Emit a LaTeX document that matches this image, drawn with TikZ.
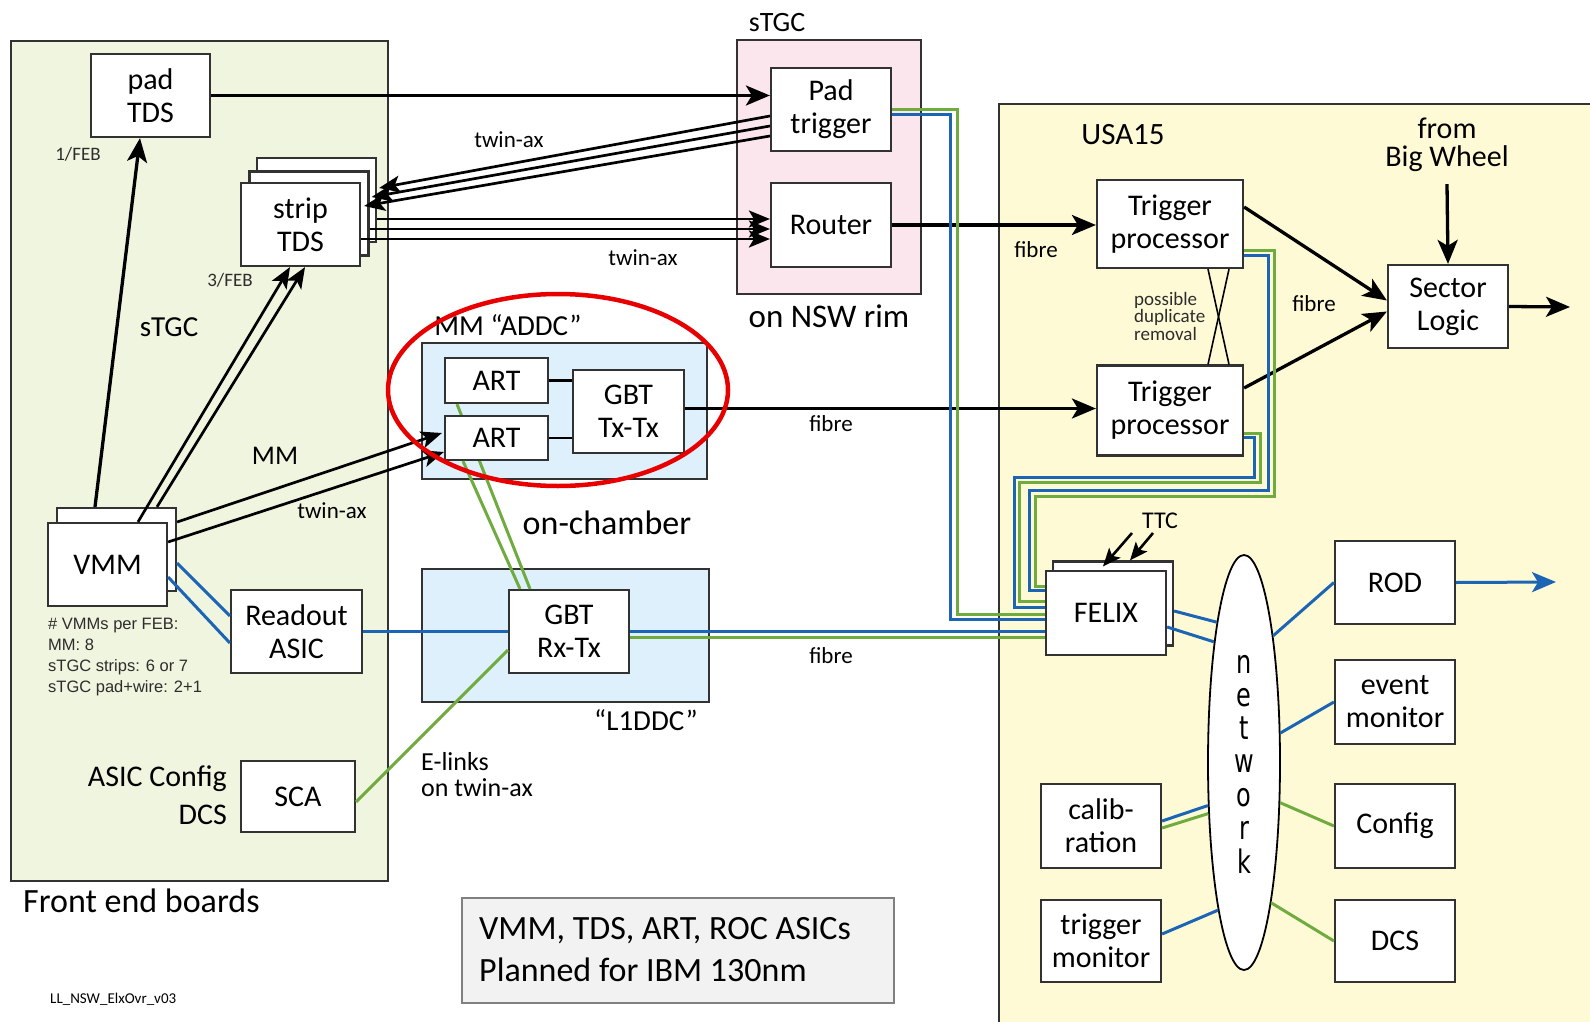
\documentclass[tikz,border=0pt]{standalone}
\usepackage{fontspec}
\usepackage{graphicx}
\setmainfont{Carlito}
\newfontfamily\arialf{Liberation Sans}
\newfontfamily\dejavuf{DejaVu Sans}
\usetikzlibrary{arrows.meta,shapes.geometric,calc}

\definecolor{febbg}{RGB}{240,245,224}
\definecolor{pinkbg}{RGB}{252,230,238}
\definecolor{bluebg}{RGB}{222,240,251}
\definecolor{usabg}{RGB}{255,250,214}
\definecolor{notebg}{RGB}{242,242,242}
\definecolor{lblue}{RGB}{28,100,180}
\definecolor{lgreen}{RGB}{112,171,64}
\definecolor{edgec}{RGB}{50,50,50}
\definecolor{redring}{RGB}{232,0,0}
\definecolor{txtgray}{RGB}{45,45,45}

\newcommand\fsz[2]{\fontsize{#1}{#2}\selectfont}

\begin{document}
\begin{tikzpicture}[x=1pt,y=-1pt,
  box/.style={draw=edgec, line width=2.2pt, fill=white, inner sep=0pt, align=center, font=\fsz{30}{33}},
  panel/.style={draw=edgec, line width=1.8pt},
  arr/.style={line width=3.3pt, -{Stealth[length=24pt,width=20pt,inset=6pt]}},
  tarr/.style={line width=2.7pt, -{Stealth[length=21pt,width=17pt,inset=5pt]}},
  sarr/.style={line width=2.6pt, -{Stealth[length=18pt,width=15pt,inset=4pt]}},
  bl/.style={draw=lblue, line width=3pt},
  gl/.style={draw=lgreen, line width=3pt},
  lbl/.style={inner sep=0pt, font=\fsz{23}{26}},
]
\useasboundingbox (0,0) rectangle (1590,1022);

% ---------- panels ----------
\fill[usabg] (999,104) rectangle (1590,1022);
\draw[panel] (1590,104) -- (999,104) -- (999,1022);
\draw[panel, fill=febbg] (11,41) rectangle (388,881);
\draw[panel, fill=pinkbg] (737,40) rectangle (921,294);
\draw[panel, fill=bluebg] (422,343) rectangle (707,479);
\draw[panel, fill=bluebg] (422,569) rectangle (709,702);
\draw[draw=gray, line width=1.5pt, fill=notebg] (462,898) rectangle (894,1003);

% ---------- front end boards ----------
\node[box, minimum width=119, minimum height=83] (padTDS) at (150.5,95.5) {pad\\TDS};
\node[box, minimum width=119, minimum height=84] (stripC) at (316.5,200) {};
\node[box, minimum width=119, minimum height=84] (stripB) at (309,213.5) {};
\node[box, minimum width=119, minimum height=83] (strip) at (300.5,224.5) {strip\\TDS};
\node[box, minimum width=119, minimum height=83] (VMMb) at (116.5,549.5) {};
\node[box, minimum width=119, minimum height=83] (VMM) at (107.5,564.5) {VMM};
\node[box, minimum width=131, minimum height=83] (readout) at (296.5,631.5) {Readout\\ASIC};
\node[box, minimum width=114, minimum height=71] (sca) at (298,796.5) {SCA};

\node[lbl, font=\fsz{19}{22}, text=txtgray] (feb1) at (78,154) {1/FEB};
\node[lbl, font=\fsz{19}{22}, text=txtgray] (feb3) at (230,280) {3/FEB};
\node[lbl, font=\fsz{29}{32}] (stgcL) at (169,327) {sTGC};
\node[lbl, font=\fsz{27}{30}] (mmL) at (275,456) {MM};
\node[lbl] (twinL) at (332,511) {twin-ax};
\node[lbl, anchor=north west, align=left, font=\arialf\fsz{16.5}{21}, text=txtgray] (vmmnote) at (48,618)
  {\# VMMs per FEB:\\MM: 8\\sTGC strips: 6 or 7\\sTGC pad+wire: 2+1};
\node[lbl, anchor=east, align=right, font=\fsz{30}{38}] (asiccfg) at (227,795) {ASIC Config\\DCS};
\node[lbl, anchor=west, font=\fsz{34}{38}] (febL) at (23,901) {Front end boards};
\node[lbl, anchor=west, font=\fsz{15}{17}] (ver) at (50,999) {LL\_NSW\_ElxOvr\_v03};

% ---------- sTGC rim ----------
\node[box, minimum width=120, minimum height=83] (padtrig) at (831,109.5) {Pad\\trigger};
\node[box, minimum width=120, minimum height=84] (router) at (831,225) {Router};
\node[lbl, font=\fsz{28}{30}] (stgcT) at (777,23) {sTGC};
\node[lbl, font=\fsz{33}{36}] (rim) at (829,316) {on NSW rim};
\node[lbl] (twinT) at (509,140) {twin-ax};
\node[lbl] (twinM) at (643,258) {twin-ax};

% ---------- on-chamber ----------
\node[lbl, font=\fsz{29}{32}] (addcL) at (508,325) {MM “ADDC”};
\node[box, minimum width=111, minimum height=83] (gbttx) at (628.5,411.5) {GBT\\Tx-Tx};
\node[box, minimum width=120, minimum height=83] (gbtrx) at (569,631.5) {GBT\\Rx-Tx};
\node[box, minimum width=103, minimum height=45] (art1) at (496.5,380.5) {ART};
\draw[gl] ([xshift=-39.5pt]art1.south) -- ([xshift=-39pt]gbtrx.north);
\node[box, minimum width=103, minimum height=44] (art2) at (496.5,438) {ART};
\node[lbl, font=\fsz{34}{36}] (onch) at (607,523) {on-chamber};
\node[lbl, font=\fsz{29}{32}] (l1ddcL) at (646,720) {“L1DDC”};
\node[lbl, anchor=west, align=left, font=\fsz{26}{26}] (elinks) at (421,775) {E-links\\on twin-ax};
\node[lbl] (fibreA) at (831,424) {fibre};
\node[lbl] (fibreB) at (831,656) {fibre};
\node[lbl, anchor=west, align=left, font=\fsz{34}{42}] (note) at (479,950)
  {VMM, TDS, ART, ROC ASICs\\Planned for IBM 130nm};

% ---------- USA15 ----------
\node[lbl, font=\fsz{31}{34}] (usaL) at (1123,135) {USA15};
\node[box, minimum width=146, minimum height=88] (tp1) at (1170,224) {Trigger\\processor};
\node[box, minimum width=146, minimum height=90] (tp2) at (1170,410.5) {Trigger\\processor};
\node[box, minimum width=120, minimum height=83] (sl) at (1448,306.5) {Sector\\Logic};
\node[lbl, font=\fsz{30}{28}, align=center] (bigw) at (1447,145) {from\\Big Wheel};
\node[lbl, anchor=west, align=left, font=\fsz{19}{17.5}, text=txtgray] (dup) at (1134,316) {possible\\duplicate\\removal};
\node[lbl] (fibreC) at (1036,250) {fibre};
\node[lbl] (fibreD) at (1314,304) {fibre};
\node[box, minimum width=120, minimum height=84] (felixb) at (1113,603.5) {};
\node[box, minimum width=120, minimum height=84] (felix) at (1106,613) {FELIX};
\node[lbl, font=\fsz{24}{26}] (ttcL) at (1160,521) {TTC};
\node[draw=black, line width=1.8pt, fill=white, ellipse, inner sep=0pt, minimum width=72, minimum height=415] (network) at (1244,762.5) {};
\node[lbl, font=\dejavuf\fsz{24}{24.6}] (netL) at (1244,767) {\scalebox{1}[1.35]{\begin{tabular}{@{}c@{}}n\\e\\t\\w\\o\\r\\k\end{tabular}}};
\node[box, minimum width=120, minimum height=83] (rod) at (1395,582.5) {ROD};
\node[box, minimum width=120, minimum height=84] (evmon) at (1395,702) {event\\monitor};
\node[box, minimum width=120, minimum height=84] (config) at (1395,826) {Config};
\node[box, minimum width=120, minimum height=82] (dcs) at (1395,941) {DCS};
\node[box, minimum width=120, minimum height=84] (calib) at (1101,826) {calib-\\ration};
\node[box, minimum width=120, minimum height=82] (trigmon) at (1101,941) {trigger\\monitor};

% ---------- black connectors ----------
\draw[arr] ([xshift=-21.5pt]VMMb.north) -- ([xshift=-10.5pt]padTDS.south);
\draw[tarr] ([xshift=30.5pt]VMM.north) -- ([xshift=-10.5pt]strip.south);
\draw[tarr] ([xshift=40.5pt]VMMb.north) -- ([xshift=4.5pt]strip.south);
\draw[tarr] ([yshift=27.5pt]VMMb.east) -- ([yshift=5pt,xshift=-2pt]art2.west);
\draw[tarr] ([yshift=22.5pt]VMM.east) -- ([yshift=-14pt]art2.west);
\draw[arr] (padTDS.east) -- (padTDS.east -| padtrig.west);
\draw[tarr] ([yshift=-6.5pt]padtrig.west) -- ([yshift=12pt,xshift=2pt]stripC.east);
\draw[tarr] ([yshift=-16.5pt]padtrig.west) -- ([yshift=16.5pt,xshift=2pt]stripB.east);
\draw[tarr] ([yshift=-26.5pt]padtrig.west) -- ([yshift=18.5pt,xshift=3pt]strip.east);
\draw[tarr] ([yshift=-19pt]stripC.east) -- ([yshift=-19pt]stripC.east -| router.west);
\draw[tarr] ([yshift=-15.5pt]stripB.east) -- ([yshift=-15.5pt]stripB.east -| router.west);
\draw[tarr] ([yshift=-14.5pt]strip.east) -- ([yshift=-14.5pt]strip.east -| router.west);
\draw[arr] (router.east) -- (router.east -| tp1.west);
\draw[arr] ([yshift=3pt]gbttx.east) -- ([yshift=3pt]gbttx.east -| tp2.west);
\draw[line width=2.6pt] (art1.east) -- (art1.east -| gbttx.west);
\draw[line width=2.6pt] (art2.east) -- (art2.east -| gbttx.west);
\draw[arr] ([yshift=17pt]tp1.east) -- ([yshift=6pt]sl.west);
\draw[arr] ([yshift=22.5pt]tp2.east) -- ([yshift=-5pt]sl.west);
\draw[arr] ([yshift=-12pt]bigw.south) -- (sl.north);
\coordinate (slout) at (1570,307);
\draw[arr] (sl.east) -- (slout);
\draw[line width=1.6pt] ([xshift=38pt]tp1.south) -- ([xshift=59pt]tp2.north);
\draw[line width=1.6pt] ([xshift=59pt]tp1.south) -- ([xshift=38pt]tp2.north);
\coordinate (ttc1) at (1132,533);
\coordinate (ttc2) at (1153,533);
\draw[sarr] (ttc1) -- ([xshift=-10pt,yshift=-6pt]felixb.north);
\draw[sarr] (ttc2) -- ([xshift=17pt]felixb.north);

% ---------- blue / green links ----------
\draw[bl] ([yshift=-13.5pt]VMMb.east) -- ([yshift=15.5pt]readout.west);
\draw[bl] ([yshift=-12.5pt]VMM.east) -- ([yshift=-11.5pt]readout.west);
\draw[bl] (readout.east) -- (readout.east -| gbtrx.west);
\draw[gl] ([yshift=-5.5pt]sca.east) -- ([yshift=-18.5pt]gbtrx.west);
\draw[gl] ([xshift=-33.5pt]art2.south) -- ([xshift=-49pt]gbtrx.north);
\draw[bl] (gbtrx.east) -- (gbtrx.east -| felix.west);
\draw[gl] ([yshift=-6pt]gbtrx.east) -- ([yshift=-6pt]gbtrx.east -| felix.west);
\draw[gl] (padtrig.east) -- ++(65,0) |- ([yshift=-1pt]felix.west);
\draw[bl] ([yshift=-5.5pt]padtrig.east) -- ++(58,0) |- ([yshift=-6pt]felix.west);
\draw[gl] ([yshift=-26pt]tp1.east) -- ++(30,0) -- ++(0,246) -- ++(-239,0) |- ([yshift=27pt]felix.west);
\draw[bl] ([yshift=-31pt]tp1.east) -- ++(24,0) -- ++(0,235) -- ++(-239,0) |- ([yshift=23pt]felix.west);
\draw[gl] ([yshift=-22.5pt]tp2.east) -- ++(16,0) -- ++(0,49) -- ++(-241,0) |- ([yshift=12pt]felix.west);
\draw[bl] ([yshift=-27pt]tp2.east) -- ++(10,0) -- ++(0,40) -- ++(-240,0) |- ([yshift=6pt]felix.west);
\draw[bl] ([yshift=-7.5pt]felixb.east) -- (network.101);
\draw[bl] ([yshift=-14pt]felix.east) -- (network.104);
\draw[bl] (network.77) -- (rod.west);
\draw[bl] (network.39) -- (evmon.west);
\draw[gl] (network.-48) -- (config.west);
\draw[gl] (network.-79.5) -- (dcs.west);
\draw[bl] ([yshift=5pt]calib.east) -- (network.-130.6);
\draw[gl] ([yshift=-2pt]calib.east) -- (network.-125.8);
\draw[bl] ([yshift=7pt]trigmon.east) -- (network.-100.6);
\coordinate (rodout) at (1556,582);
\draw[bl, -{Stealth[length=24pt,width=20pt,inset=6pt]}] (rod.east) -- (rodout);

% ---------- highlight ----------
\draw[redring, line width=4.5pt] (558,390) ellipse [x radius=170, y radius=96];
\end{tikzpicture}
\end{document}
